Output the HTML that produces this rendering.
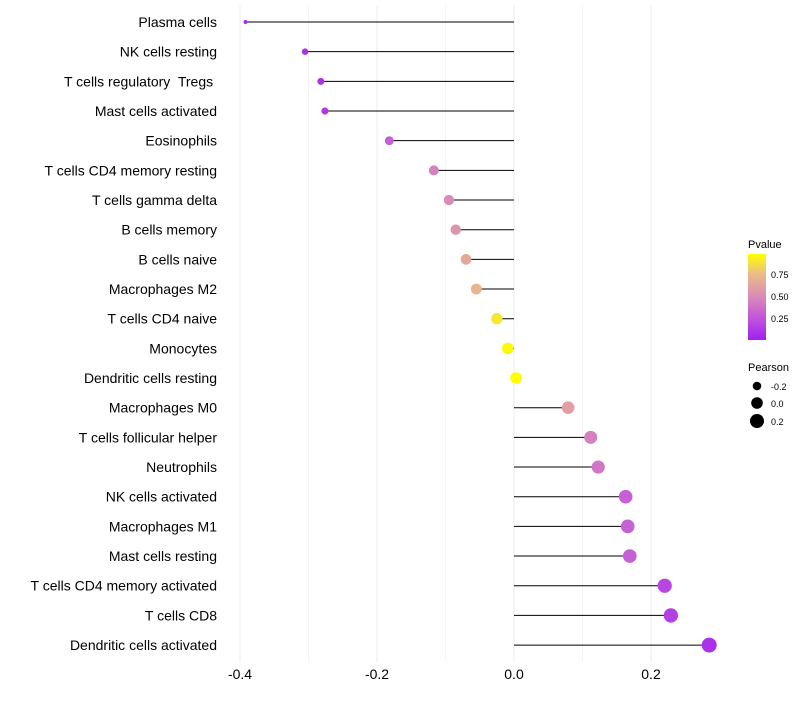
<!DOCTYPE html>
<html><head><meta charset="utf-8"><style>
body{margin:0;background:#fff;font-family:"Liberation Sans",sans-serif}
#ylabels text{white-space:pre}
</style></head><body>
<svg id="chart" width="800" height="700" xmlns="http://www.w3.org/2000/svg" font-family="Liberation Sans, sans-serif">
<defs><linearGradient id="pg" x1="0" y1="1" x2="0" y2="0">
<stop offset="0" stop-color="#a020f0"/><stop offset="0.26" stop-color="#c256dc"/><stop offset="0.51" stop-color="#d98cb6"/><stop offset="0.77" stop-color="#ecbc86"/><stop offset="1" stop-color="#ffff00"/></linearGradient></defs>
<g id="grid"></g><g id="marks"></g><g id="ylabels"></g><g id="xlabels"></g>
<g>
<text x="748" y="248" font-size="11">Pvalue</text>
<rect x="748" y="254" width="18" height="86" fill="url(#pg)"/>
<text x="771" y="278" font-size="9">0.75</text>
<text x="771" y="300" font-size="9">0.50</text>
<text x="771" y="322" font-size="9">0.25</text>
</g>
<g>
<text x="748" y="371" font-size="11">Pearson</text>
<circle cx="757" cy="386" r="4.3" fill="#000"/>
<circle cx="757" cy="403" r="5.8" fill="#000"/>
<circle cx="757" cy="421" r="7" fill="#000"/>
<text x="771" y="390" font-size="9">-0.2</text>
<text x="771" y="407" font-size="9">0.0</text>
<text x="771" y="425" font-size="9">0.2</text>
</g>
</svg>
<script>
const cells=["Plasma cells","NK cells resting","T cells regulatory  Tregs ","Mast cells activated","Eosinophils","T cells CD4 memory resting","T cells gamma delta","B cells memory","B cells naive","Macrophages M2","T cells CD4 naive","Monocytes","Dendritic cells resting","Macrophages M0","T cells follicular helper","Neutrophils","NK cells activated","Macrophages M1","Mast cells resting","T cells CD4 memory activated","T cells CD8","Dendritic cells activated"];
const pearson=[-0.392,-0.305,-0.282,-0.276,-0.182,-0.117,-0.095,-0.085,-0.070,-0.055,-0.025,-0.009,0.003,0.079,0.112,0.123,0.163,0.166,0.169,0.220,0.229,0.285];
const pvalue=[0.05,0.08,0.1,0.12,0.3,0.45,0.5,0.55,0.65,0.72,0.9,0.96,0.99,0.6,0.45,0.4,0.3,0.3,0.3,0.18,0.15,0.08];
const xTicks=[-0.4,-0.2,0.0,0.2];
const xMinor=[-0.3,-0.1,0.1];
const X=v=>514+v*685;
const Y=i=>22+i*29.67;
const R=v=>Math.sqrt(Math.max(3,34+77*v));
const stops=[[0,[160,32,240]],[0.26,[194,86,220]],[0.51,[217,140,182]],[0.77,[236,188,134]],[1,[255,255,0]]];
function col(p){let t=Math.min(1,Math.max(0,p/0.98));for(let k=1;k<stops.length;k++){if(t<=stops[k][0]){const a=stops[k-1],b=stops[k],f=(t-a[0])/(b[0]-a[0]);return 'rgb('+a[1].map((c,j)=>Math.round(c+(b[1][j]-c)*f)).join(',')+')';}}return 'rgb(255,255,0)';}
const NS="http://www.w3.org/2000/svg";
function mk(tag,attrs,parent){const e=document.createElementNS(NS,tag);for(const k in attrs)e.setAttribute(k,attrs[k]);document.getElementById(parent).appendChild(e);return e;}
xTicks.concat(xMinor).forEach(v=>{
 const l=mk('line',{x1:X(v),x2:X(v),y1:5,y2:662,stroke:'#ececec','stroke-width':xTicks.includes(v)?1:0.6},'grid');
 
 
});
xTicks.forEach(v=>{
 const t=mk('text',{x:X(v),y:679,'font-size':14,'text-anchor':'middle',fill:'#000'},'xlabels');
 t.textContent=v.toFixed(1);
 
 
});
cells.forEach((c,i)=>{
 const y=Y(i);
 const t=mk('text',{x:217,y:y+5,'font-size':14,'text-anchor':'end',fill:'#000'},'ylabels');
 t.textContent=c;
 
 
 const l=mk('line',{x1:X(0),x2:X(pearson[i]),y1:y,y2:y,stroke:'#000','stroke-width':1},'marks');
 
 
 const p=mk('circle',{cx:X(pearson[i]),cy:y,r:R(pearson[i]),fill:col(pvalue[i])},'marks');
 
 
});
</script>
</body></html>
